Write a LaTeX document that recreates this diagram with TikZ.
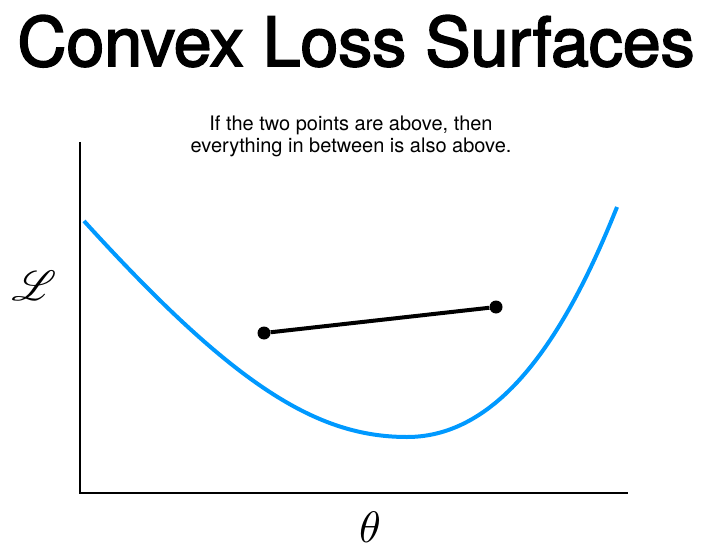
\documentclass[tikz,border=0pt]{standalone}
\usepackage{fontspec}
\usepackage{mathrsfs}
\setmainfont{TeX Gyre Heros}
\newfontfamily\titlefont[FakeBold=2.5]{TeX Gyre Heros}
\definecolor{curveblue}{RGB}{0,153,255}
\begin{document}
\begin{tikzpicture}[x=1pt,y=-1pt,
  axisline/.style={line width=2.5pt,black},
  dotnode/.style={circle,fill=black,inner sep=0pt,minimum size=13pt},
  chord/.style={line width=4pt,black},
  losscurve/.style={line width=4pt,curveblue}]
\useasboundingbox (0,0) rectangle (719,556);
\node[font=\titlefont\fontsize{68}{68}\selectfont,anchor=base] (title) at (356,66) {Convex Loss Surfaces};
\node[font=\fontsize{20}{22}\selectfont,align=center] (caption) at (351,136) {If the two points are above, then\\everything in between is also above.};
\coordinate (o) at (80,493);
\coordinate (ytop) at (80,142);
\coordinate (xend) at (628,493);
\draw[axisline] (ytop) -- (o) -- (xend);
\draw[losscurve] (84,221) .. controls (234,386) and (317,437) .. (407,437)
  .. controls (502,437) and (567,332) .. (617,207);
\node[dotnode] (p1) at (264,333) {};
\node[dotnode] (p2) at (496,307) {};
\draw[chord] (p1) -- (p2);
\node[scale=4.2] (ylab) at (34,286) {$\mathscr{L}$};
\node[scale=4.4] (xlab) at (370,527) {$\theta$};
\end{tikzpicture}
\end{document}
